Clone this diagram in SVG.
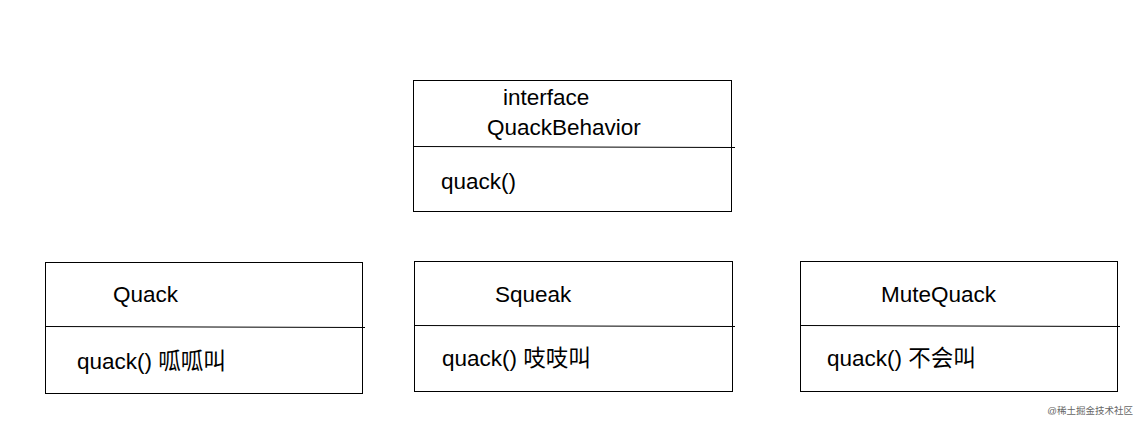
<svg xmlns="http://www.w3.org/2000/svg" width="1140" height="424" viewBox="0 0 1140 424">
<style>
.box{fill:#fff;stroke:#000;stroke-width:1}
.ln{stroke:#000;stroke-width:1}
text{font-family:"Liberation Sans","Noto Sans CJK SC",sans-serif;font-size:22.5px;fill:#000}
.wm{font-size:9.5px;fill:#666}
</style>
<rect width="1140" height="424" fill="#fff"/>
<g id="QuackBehavior">
<rect class="box" x="413.5" y="80.5" width="318" height="131"/>
<line class="ln" x1="413.5" y1="146.5" x2="735" y2="147.5"/>
<text x="503" y="105">interface</text>
<text x="487" y="135">QuackBehavior</text>
<text x="441" y="189">quack()</text>
</g>
<g id="Quack">
<rect class="box" x="45.5" y="262.5" width="317" height="131"/>
<line class="ln" x1="45.5" y1="326.5" x2="365" y2="327.5"/>
<text x="113" y="302">Quack</text>
<text x="77" y="369">quack() 呱呱叫</text>
</g>
<g id="Squeak">
<rect class="box" x="414.5" y="261.5" width="318" height="130"/>
<line class="ln" x1="414.5" y1="325.5" x2="735" y2="326.5"/>
<text x="495" y="302">Squeak</text>
<text x="442" y="366">quack() 吱吱叫</text>
</g>
<g id="MuteQuack">
<rect class="box" x="800.5" y="261.5" width="317" height="130"/>
<line class="ln" x1="800.5" y1="325.5" x2="1120" y2="326.5"/>
<text x="881" y="302">MuteQuack</text>
<text x="827" y="366">quack() 不会叫</text>
</g>
<g id="connectors"></g>
<text class="wm" x="1133" y="414" text-anchor="end">@稀土掘金技术社区</text>
</svg>
